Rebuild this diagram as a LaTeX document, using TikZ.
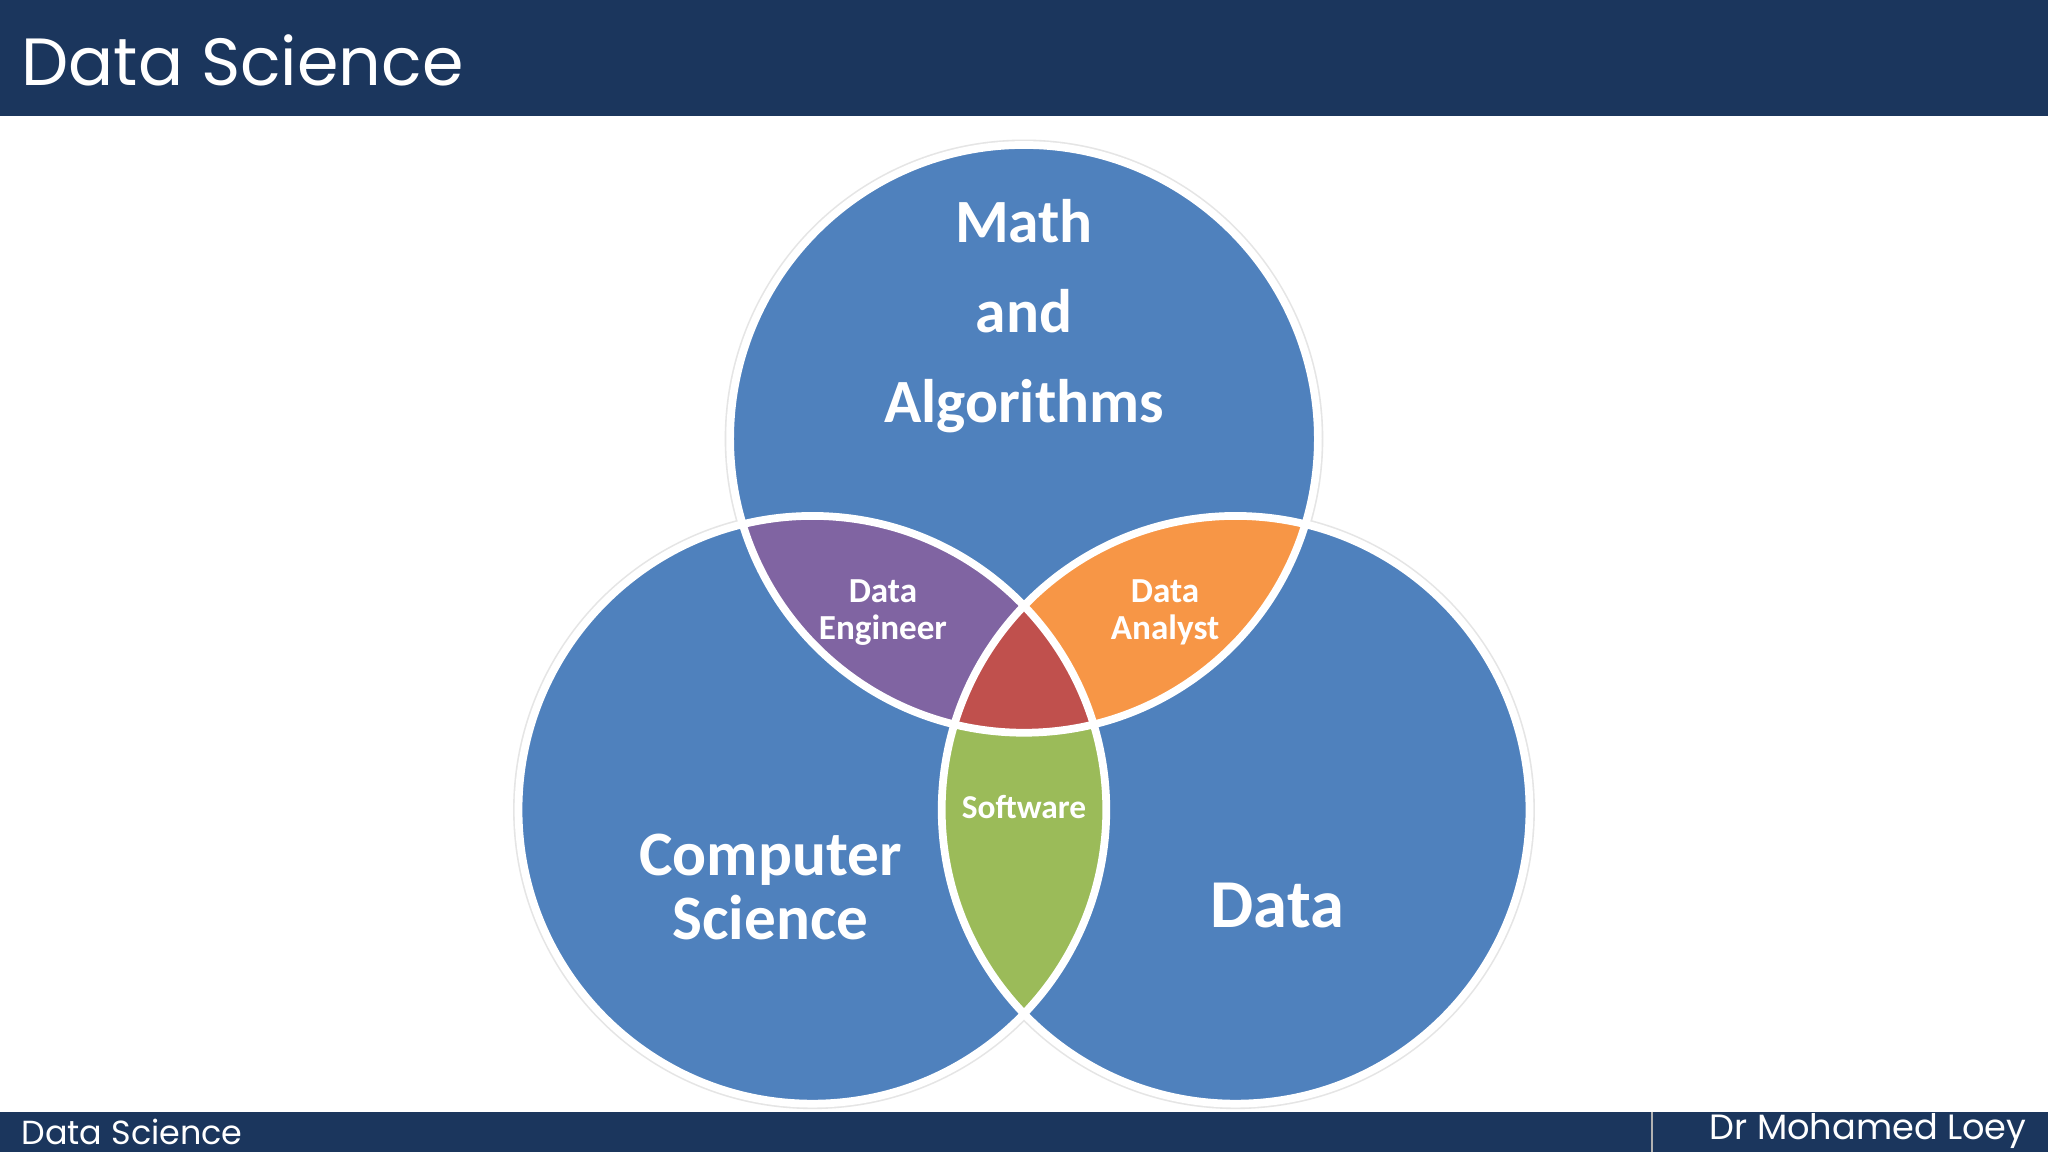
\documentclass[tikz,border=0pt]{standalone}
\usepackage{fontspec}
\setmainfont{Carlito}
\newfontfamily\headfont{Poppins}
\definecolor{navy}{HTML}{1B365D}
\definecolor{vblue}{HTML}{4F81BD}
\definecolor{vpurple}{HTML}{8064A2}
\definecolor{vorange}{HTML}{F79646}
\definecolor{vred}{HTML}{C0504D}
\definecolor{vgreen}{HTML}{9BBB59}
\begin{document}
\begin{tikzpicture}[x=0.013061cm,y=-0.013061cm,
  lbl/.style={text=white,font=\bfseries,align=center},
  ring/.style={draw=white,line width=2.2pt}]
\useasboundingbox (0,0) rectangle (1568,882);
\fill[white] (0,0) rectangle (1568,882);
\fill[navy] (0,0) rectangle (1568,89);
\fill[navy] (0,851) rectangle (1568,882);
\draw[gray!60,line width=0.6pt] (1265,851) -- (1265,882);
\node[anchor=west,text=white,inner sep=0] (title) at (16,46) {\headfont\fontsize{19}{22}\selectfont Data Science};
\node[anchor=west,text=white,inner sep=0] (foot1) at (16,867) {\headfont\fontsize{9.5}{11}\selectfont Data Science};
\node[anchor=east,text=white,inner sep=0] (foot2) at (1552,866) {\headfont\fontsize{10}{11}\selectfont Dr Mohamed Loey};
% shadows
\foreach \c in {(784,336),(622,620),(946,620)}
  \draw[gray!20,line width=2pt] \c circle (226.5);
\foreach \c in {(784,336),(622,620),(946,620)}
  \fill[vblue] \c circle (225);
\begin{scope}\clip (784,336) circle (225); \fill[vpurple] (622,620) circle (225); \end{scope}
\begin{scope}\clip (784,336) circle (225); \fill[vorange] (946,620) circle (225); \end{scope}
\begin{scope}\clip (622,620) circle (225); \fill[vgreen] (946,620) circle (225); \end{scope}
\begin{scope}\clip (784,336) circle (225); \clip (622,620) circle (225); \fill[vred] (946,620) circle (225); \end{scope}
\foreach \c in {(784,336),(622,620),(946,620)}
  \draw[ring] \c circle (225);
\node[lbl,font=\bfseries\fontsize{17.5}{25.5}\selectfont] (math) at (784,242) {Math\\and\\Algorithms};
\node[lbl,font=\bfseries\fontsize{18}{18}\selectfont] (cs) at (590,679) {Computer\\Science};
\node[lbl,font=\bfseries\fontsize{19.5}{24}\selectfont] (data) at (978,693) {Data};
\node[lbl,font=\bfseries\fontsize{10}{10.5}\selectfont] (de) at (676,469) {Data\\Engineer};
\node[lbl,font=\bfseries\fontsize{10}{10.5}\selectfont] (da) at (892,469) {Data\\Analyst};
\node[lbl,font=\bfseries\fontsize{9.5}{11}\selectfont] (sw) at (784,618) {Software};
\end{tikzpicture}
\end{document}
